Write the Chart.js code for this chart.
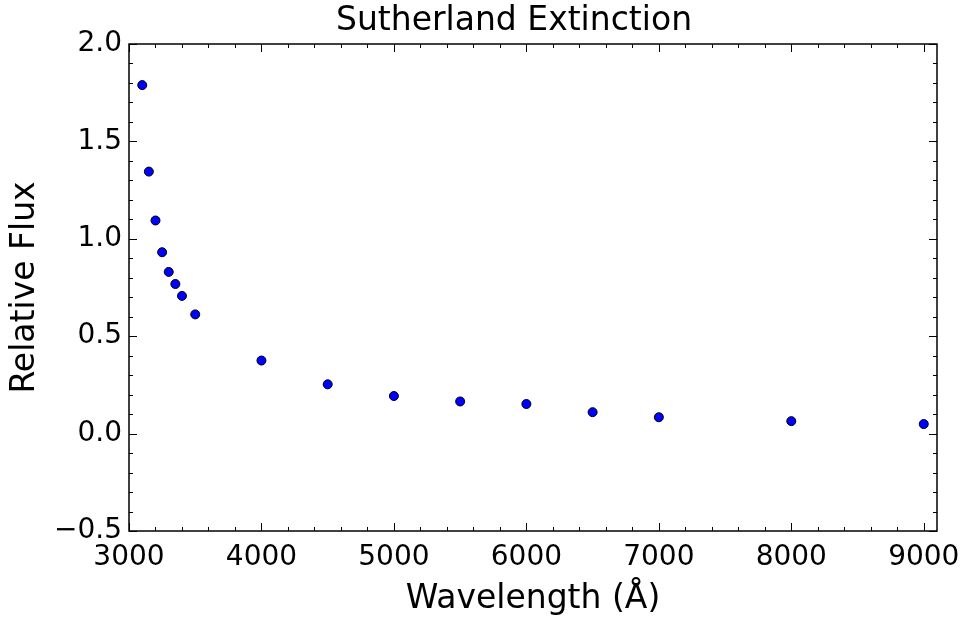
<!DOCTYPE html>
<html>
<head>
<meta charset="utf-8">
<script src="https://cdn.jsdelivr.net/npm/chart.js@4.4.0/dist/chart.umd.min.js"></script>
<style>
  html, body { margin: 0; padding: 0; background: #fff; }
  #wrap { width: 964px; height: 619px; }
</style>
</head>
<body>
<div id="wrap"><canvas id="myChart" width="964" height="619"></canvas></div>
<script>
const wavelengths = [3100, 3150, 3200, 3250, 3300, 3350, 3400, 3500, 4000, 4500, 5000, 5500, 6000, 6500, 7000, 8000, 9000];
const flux = [1.789, 1.345, 1.094, 0.931, 0.830, 0.768, 0.707, 0.612, 0.375, 0.253, 0.193, 0.165, 0.152, 0.110, 0.084, 0.064, 0.049];
const xTicks = [3000, 4000, 5000, 6000, 7000, 8000, 9000];
const yTicks = [-0.5, 0.0, 0.5, 1.0, 1.5, 2.0];

const font = "'DejaVu Sans', sans-serif";

// inward ticks on all four sides, like the old matplotlib look
const frameTicks = {
    id: 'frameTicks',
    afterLayout(chart) {
        // nudge the title so it sits where the original one does
        if (chart.titleBlock) chart.titleBlock.left = 91;
    },
    afterDraw(chart) {
        const ctx = chart.ctx;
        const a = chart.chartArea;
        const xs = chart.scales.x, ys = chart.scales.y;
        ctx.save();
        ctx.strokeStyle = '#000';
        ctx.lineWidth = 1;
        ctx.beginPath();
        for (let v = 3000; v <= 9100; v += 200) {
            const px = Math.round(xs.getPixelForValue(v)) + 0.5;
            const len = (v % 1000 === 0) ? 8 : 4;
            ctx.moveTo(px, a.bottom); ctx.lineTo(px, a.bottom - len);
            ctx.moveTo(px, a.top); ctx.lineTo(px, a.top + len);
        }
        for (let i = -5; i <= 20; i++) {
            const py = Math.round(ys.getPixelForValue(i / 10)) + 0.5;
            const len = (i % 5 === 0) ? 8 : 4;
            ctx.moveTo(a.left, py); ctx.lineTo(a.left + len, py);
            ctx.moveTo(a.right, py); ctx.lineTo(a.right - len, py);
        }
        ctx.stroke();
        ctx.lineWidth = 1.5;
        ctx.strokeRect(a.left, a.top, a.right - a.left, a.bottom - a.top);
        ctx.restore();
    }
};

const ctx = document.getElementById('myChart');
new Chart(ctx, {
    type: 'scatter',
    data: {
        datasets: [{
            label: 'Sutherland',
            data: wavelengths.map((w, i) => ({ x: w, y: flux[i] })),
            backgroundColor: '#0000ff',
            borderColor: '#000',
            borderWidth: 1,
            pointRadius: 4.5
        }]
    },
    options: {
        responsive: false,
        animation: false,
        layout: { padding: { left: 0, right: 27, top: 0, bottom: 0 } },
        plugins: {
            legend: { display: false },
            tooltip: { enabled: false },
            title: {
                display: true,
                text: 'Sutherland Extinction',
                color: '#000',
                font: { family: font, size: 33, weight: 'normal', lineHeight: 1.2 },
                padding: { top: 2, bottom: 2.4 }
            }
        },
        scales: {
            x: {
                type: 'linear',
                min: 3000,
                max: 9100,
                afterBuildTicks: s => { s.ticks = xTicks.map(v => ({ value: v })); },
                afterFit: s => { s.height = 88; },
                grid: { display: false },
                border: { display: false },
                ticks: {
                    color: '#000',
                    padding: 2,
                    maxRotation: 0,
                    font: { family: font, size: 28 },
                    callback: v => String(v)
                },
                title: {
                    display: true,
                    text: 'Wavelength (Å)',
                    color: '#000',
                    font: { family: font, size: 33 },
                    padding: { top: 4, bottom: 0 }
                }
            },
            y: {
                type: 'linear',
                min: -0.5,
                max: 2.0,
                afterBuildTicks: s => { s.ticks = yTicks.map(v => ({ value: v })); },
                afterFit: s => { s.width = 129; },
                grid: { display: false },
                border: { display: false },
                ticks: {
                    color: '#000',
                    padding: -1,
                    font: { family: font, size: 28 },
                    callback: v => (v < 0 ? '\u2212' : '') + Math.abs(v).toFixed(1)
                },
                title: {
                    display: true,
                    text: 'Relative Flux',
                    color: '#000',
                    font: { family: font, size: 33 },
                    padding: { top: 6, bottom: 4 }
                }
            }
        }
    },
    plugins: [frameTicks]
});
</script>
</body>
</html>
